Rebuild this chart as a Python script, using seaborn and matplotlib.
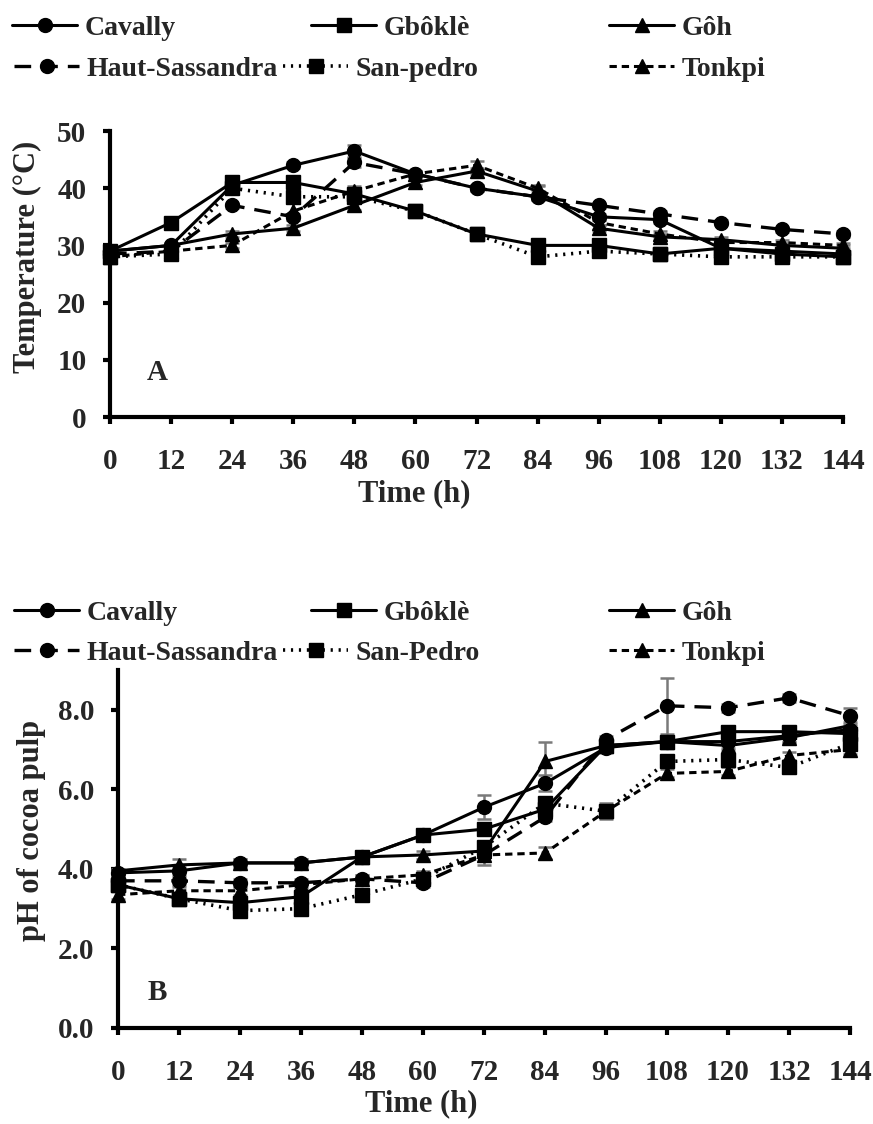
import matplotlib
matplotlib.use("Agg")
import matplotlib.pyplot as plt
import seaborn as sns

# ---------------- data ----------------
time_h = [0, 12, 24, 36, 48, 60, 72, 84, 96, 108, 120, 132, 144]

names_A = ["Cavally", "Gbôklè", "Gôh", "Haut-Sassandra", "San-pedro", "Tonkpi"]
names_B = ["Cavally", "Gbôklè", "Gôh", "Haut-Sassandra", "San-Pedro", "Tonkpi"]

# Temperature (°C)
cavally_T = [29, 30, 40.5, 44, 46.5, 42.5, 40, 38.5, 35, 34.5, 29.5, 29, 28.5]
gboklo_T = [29, 34, 41, 41, 39, 36, 32, 30, 30, 28.5, 29.5, 28.5, 28]
goh_T = [29, 30, 32, 33, 37, 41, 43, 39.5, 33, 31.5, 31, 30, 29.5]
hsass_T = [28.5, 29, 37, 35, 44.5, 42.5, 40, 38.5, 37, 35.5, 34, 32.8, 32]
sanpedro_T = [28, 28.5, 40, 38.5, 38.5, 36, 32, 28, 29, 28.5, 28, 28, 28]
tonkpi_T = [28, 29, 30, 36, 39.5, 42.5, 44, 40, 34, 32, 30.5, 30.5, 30]

cavally_Te = [0.5, 0.5, 0.5, 0.5, 1.0, 0.5, 0.5, 0.5, 0.5, 0.5, 0.5, 0.5, 0.5]
gboklo_Te = [0.5, 0.5, 0.5, 0.8, 0.5, 0.5, 0.5, 0.5, 0.5, 0.5, 0.5, 0.5, 0.5]
goh_Te = [0.5, 0.5, 0.5, 0.5, 0.8, 0.5, 0.5, 0.8, 0.5, 0.5, 0.5, 0.5, 0.5]
hsass_Te = [0.5, 0.5, 0.5, 0.5, 0.8, 0.5, 0.5, 0.5, 0.5, 0.5, 0.5, 0.5, 0.5]
sanpedro_Te = [0.5, 0.5, 0.5, 0.5, 0.5, 0.5, 0.5, 0.5, 0.5, 0.5, 0.5, 0.5, 0.5]
tonkpi_Te = [0.5, 0.5, 0.5, 1.5, 0.8, 0.5, 0.8, 0.5, 0.5, 0.5, 0.5, 0.5, 0.5]

# pH of cocoa pulp
cavally_P = [3.9, 3.95, 4.15, 4.15, 4.3, 4.85, 5.55, 6.15, 7.05, 7.2, 7.2, 7.35, 7.5]
gboklo_P = [3.6, 3.25, 3.15, 3.3, 4.3, 4.85, 5.0, 5.5, 7.1, 7.2, 7.45, 7.45, 7.4]
goh_P = [3.95, 4.1, 4.15, 4.15, 4.3, 4.35, 4.45, 6.7, 7.1, 7.2, 7.1, 7.3, 7.6]
hsass_P = [3.7, 3.7, 3.65, 3.65, 3.75, 3.65, 4.35, 5.3, 7.25, 8.1, 8.05, 8.3, 7.85]
sanpedro_P = [3.6, 3.25, 2.95, 3.0, 3.35, 3.75, 4.55, 5.65, 5.45, 6.7, 6.75, 6.55, 7.15]
tonkpi_P = [3.35, 3.45, 3.45, 3.6, 3.75, 3.85, 4.35, 4.4, 5.45, 6.4, 6.45, 6.85, 7.0]

cavally_Pe = [0.05, 0.1, 0.1, 0.1, 0.1, 0.1, 0.3, 0.2, 0.1, 0.1, 0.15, 0.15, 0.1]
gboklo_Pe = [0.05, 0.1, 0.15, 0.1, 0.1, 0.1, 0.15, 0.1, 0.1, 0.15, 0.15, 0.1, 0.1]
goh_Pe = [0.05, 0.15, 0.1, 0.1, 0.15, 0.1, 0.1, 0.5, 0.1, 0.1, 0.1, 0.1, 0.1]
hsass_Pe = [0.05, 0.1, 0.1, 0.1, 0.1, 0.1, 0.15, 0.1, 0.1, 0.7, 0.1, 0.1, 0.2]
sanpedro_Pe = [0.05, 0.1, 0.1, 0.1, 0.1, 0.1, 0.1, 0.1, 0.2, 0.1, 0.1, 0.1, 0.1]
tonkpi_Pe = [0.1, 0.1, 0.1, 0.1, 0.1, 0.1, 0.25, 0.15, 0.1, 0.1, 0.1, 0.1, 0.1]

temp_series = [cavally_T, gboklo_T, goh_T, hsass_T, sanpedro_T, tonkpi_T]
temp_errors = [cavally_Te, gboklo_Te, goh_Te, hsass_Te, sanpedro_Te, tonkpi_Te]
ph_series = [cavally_P, gboklo_P, goh_P, hsass_P, sanpedro_P, tonkpi_P]
ph_errors = [cavally_Pe, gboklo_Pe, goh_Pe, hsass_Pe, sanpedro_Pe, tonkpi_Pe]

# ---------------- style ----------------
sns.set_style("ticks")
plt.rcParams["font.family"] = ["Liberation Serif", "DejaVu Serif"]
plt.rcParams["font.weight"] = "bold"
plt.rcParams["axes.labelweight"] = "bold"

markers = ["o", "s", "^", "o", "s", "^"]
msizes = [10, 9.5, 10.5, 10, 9.5, 10]
lstyles = ["-", "-", "-", (0, (5, 3)), (0, (0.6, 1.6)), (0, (2.4, 1.6))]
lwidths = [2.2, 2.2, 2.2, 2.4, 2.6, 2.2]

W, H = 873, 1124
fig = plt.figure(figsize=(W / 100, H / 100), dpi=100)
axA = fig.add_axes([110 / W, 1 - 417 / H, 733 / W, 286 / H])
axB = fig.add_axes([118 / W, 1 - 1028 / H, 732 / W, 358 / H])


def draw(ax, series, errors, names):
    handles = []
    for vals, err, name, m, ms, ls, lw in zip(series, errors, names, markers, msizes, lstyles, lwidths):
        ax.errorbar(time_h, vals, yerr=err, fmt="none", ecolor="#7a7a7a",
                    elinewidth=1.8, capsize=5, capthick=1.8, zorder=2, clip_on=False)
        sns.lineplot(x=time_h, y=vals, ax=ax, color="black", marker=m, markersize=ms,
                     linestyle=ls, linewidth=lw, markeredgecolor="black",
                     markeredgewidth=1, legend=False, label=name, zorder=3,
                     clip_on=False, errorbar=None)
        handles.append(ax.lines[-1])
    return handles


hA = draw(axA, temp_series, temp_errors, names_A)
hB = draw(axB, ph_series, ph_errors, names_B)

for ax in (axA, axB):
    sns.despine(ax=ax)
    for s in ("left", "bottom"):
        ax.spines[s].set_linewidth(3)
        ax.spines[s].set_color("black")
    ax.tick_params(axis="both", which="major", direction="out", length=5, width=3,
                   color="black", labelsize=21)
    ax.tick_params(axis="x", pad=17)
    ax.tick_params(axis="y", pad=12)
    ax.set_xlim(0, 144)
    ax.set_xticks(time_h)
    ax.set_xticklabels([str(t) for t in time_h], fontweight="bold")
    ax.set_xlabel("Time (h)", fontsize=22, fontweight="bold")
    ax.xaxis.label.set_verticalalignment("center")
    ax.yaxis.label.set_verticalalignment("center")

axA.set_ylim(0, 50)
axA.set_yticks([0, 10, 20, 30, 40, 50])
axA.set_yticklabels(["0", "10", "20", "30", "40", "50"], fontweight="bold")
axA.set_ylabel("Temperature (°C)", fontsize=22, fontweight="bold")
axA.xaxis.set_label_coords(0.415, -0.268)
axA.yaxis.set_label_coords(-0.112, 0.56)
axA.text(0.064, 0.156, "A", transform=axA.transAxes, fontsize=21,
         fontweight="bold", ha="center", va="center")

axB.set_ylim(0, 9)
axB.set_yticks([0, 2, 4, 6, 8])
axB.set_yticklabels(["0.0", "2.0", "4.0", "6.0", "8.0"], fontweight="bold")
axB.set_ylabel("pH of cocoa pulp", fontsize=22, fontweight="bold")
axB.xaxis.set_label_coords(0.414, -0.212)
axB.yaxis.set_label_coords(-0.1175, 0.553)
axB.text(0.054, 0.10, "B", transform=axB.transAxes, fontsize=21,
         fontweight="bold", ha="center", va="center")

# ---------------- legends (one entry each, placed like the original) ----------------
def add_entry(handle, label, x_px, y_px):
    fig.legend(handles=[handle], labels=[label], loc="center left",
               bbox_to_anchor=(x_px / W, 1 - y_px / H), frameon=False,
               handlelength=2.35, handletextpad=0.25, borderpad=0,
               borderaxespad=0, prop={"size": 20, "weight": "bold"})

pos_top = [(12, 28), (311, 28), (609, 28), (14, 69), (283, 69), (609, 69)]
pos_bot = [(14, 613), (311, 613), (609, 613), (14, 653), (283, 653), (609, 653)]
for h, lab, (x, y) in zip(hA, names_A, pos_top):
    add_entry(h, lab, x, y)
for h, lab, (x, y) in zip(hB, names_B, pos_bot):
    add_entry(h, lab, x, y)

fig.savefig("out.png", dpi=100)
